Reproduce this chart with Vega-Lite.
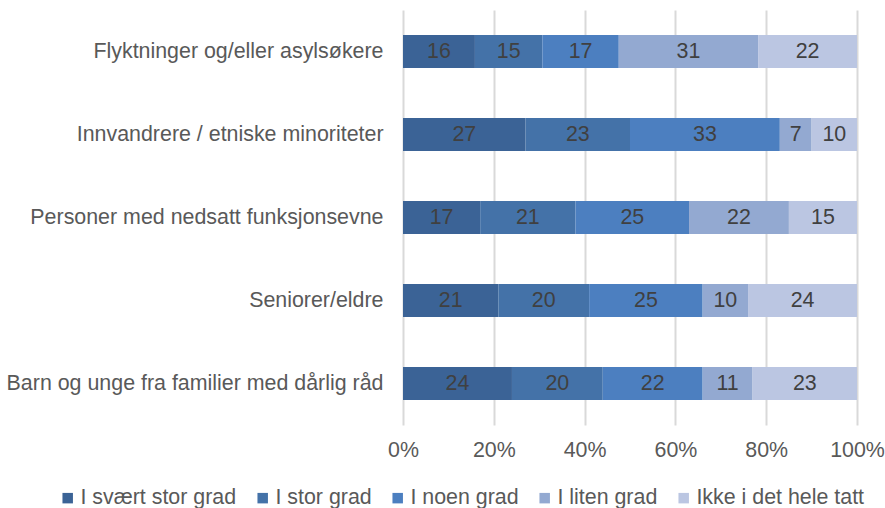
{
  "$schema": "https://vega.github.io/schema/vega-lite/v6.json",
  "width": 454,
  "height": 415,
  "autosize": {"type": "none"},
  "padding": {"left": 403, "top": 10, "right": 28, "bottom": 83},
  "background": "white",
  "config": {
    "view": {"stroke": null},
    "font": "Liberation Sans",
    "axis": {"labelFont": "Liberation Sans", "labelColor": "#595959", "labelFontSize": 21.4},
    "legend": {"labelFont": "Liberation Sans", "labelColor": "#595959", "labelFontSize": 21.4}
  },
  "data": {
    "values": [
      {"group": "Flyktninger og/eller asylsøkere", "cat": "I svært stor grad", "o": 1, "value": 16},
      {"group": "Flyktninger og/eller asylsøkere", "cat": "I stor grad", "o": 2, "value": 15},
      {"group": "Flyktninger og/eller asylsøkere", "cat": "I noen grad", "o": 3, "value": 17},
      {"group": "Flyktninger og/eller asylsøkere", "cat": "I liten grad", "o": 4, "value": 31},
      {"group": "Flyktninger og/eller asylsøkere", "cat": "Ikke i det hele tatt", "o": 5, "value": 22},
      {"group": "Innvandrere / etniske minoriteter", "cat": "I svært stor grad", "o": 1, "value": 27},
      {"group": "Innvandrere / etniske minoriteter", "cat": "I stor grad", "o": 2, "value": 23},
      {"group": "Innvandrere / etniske minoriteter", "cat": "I noen grad", "o": 3, "value": 33},
      {"group": "Innvandrere / etniske minoriteter", "cat": "I liten grad", "o": 4, "value": 7},
      {"group": "Innvandrere / etniske minoriteter", "cat": "Ikke i det hele tatt", "o": 5, "value": 10},
      {"group": "Personer med nedsatt funksjonsevne", "cat": "I svært stor grad", "o": 1, "value": 17},
      {"group": "Personer med nedsatt funksjonsevne", "cat": "I stor grad", "o": 2, "value": 21},
      {"group": "Personer med nedsatt funksjonsevne", "cat": "I noen grad", "o": 3, "value": 25},
      {"group": "Personer med nedsatt funksjonsevne", "cat": "I liten grad", "o": 4, "value": 22},
      {"group": "Personer med nedsatt funksjonsevne", "cat": "Ikke i det hele tatt", "o": 5, "value": 15},
      {"group": "Seniorer/eldre", "cat": "I svært stor grad", "o": 1, "value": 21},
      {"group": "Seniorer/eldre", "cat": "I stor grad", "o": 2, "value": 20},
      {"group": "Seniorer/eldre", "cat": "I noen grad", "o": 3, "value": 25},
      {"group": "Seniorer/eldre", "cat": "I liten grad", "o": 4, "value": 10},
      {"group": "Seniorer/eldre", "cat": "Ikke i det hele tatt", "o": 5, "value": 24},
      {"group": "Barn og unge fra familier med dårlig råd", "cat": "I svært stor grad", "o": 1, "value": 24},
      {"group": "Barn og unge fra familier med dårlig råd", "cat": "I stor grad", "o": 2, "value": 20},
      {"group": "Barn og unge fra familier med dårlig råd", "cat": "I noen grad", "o": 3, "value": 22},
      {"group": "Barn og unge fra familier med dårlig råd", "cat": "I liten grad", "o": 4, "value": 11},
      {"group": "Barn og unge fra familier med dårlig råd", "cat": "Ikke i det hele tatt", "o": 5, "value": 23}
    ]
  },
  "transform": [
    {"stack": "value", "groupby": ["group"], "sort": [{"field": "o", "order": "ascending"}], "offset": "normalize", "as": ["v0", "v1"]},
    {"calculate": "(datum.v0 + datum.v1) / 2", "as": "vm"}
  ],
  "encoding": {
    "y": {
      "field": "group", "type": "nominal", "sort": null,
      "scale": {"paddingInner": 0.6, "paddingOuter": 0.3},
      "axis": {"title": null, "domain": false, "ticks": false, "labelPadding": 20, "labelLimit": 420}
    }
  },
  "layer": [
    {
      "mark": {"type": "bar"},
      "encoding": {
        "x": {
          "field": "v0", "type": "quantitative",
          "scale": {"domain": [0, 1]},
          "axis": {"title": null, "format": "%", "values": [0, 0.2, 0.4, 0.6, 0.8, 1], "labelOverlap": false, "labelBound": false, "labelFlush": false, "labelAlign": "center", "domain": false, "ticks": false, "gridColor": "#d9d9d9", "gridWidth": 2, "labelPadding": 14}
        },
        "x2": {"field": "v1"},
        "color": {
          "field": "cat", "type": "nominal",
          "scale": {
            "domain": ["I svært stor grad", "I stor grad", "I noen grad", "I liten grad", "Ikke i det hele tatt"],
            "range": ["#3b6396", "#4472a8", "#4c7fc0", "#93a9d1", "#bbc6e2"]
          },
          "legend": {
            "title": null, "orient": "none", "direction": "horizontal",
            "legendX": -346, "legendY": 477,
            "symbolType": "square", "symbolSize": 110, "symbolStrokeWidth": 0,
            "labelOffset": 2, "columnPadding": 15, "labelLimit": 400
          }
        },
        "order": {"field": "o"}
      }
    },
    {
      "mark": {"type": "text", "fontSize": 21.4, "color": "#404040", "font": "Liberation Sans"},
      "encoding": {
        "x": {"field": "vm", "type": "quantitative"},
        "text": {"field": "value", "type": "quantitative"}
      }
    }
  ]
}
